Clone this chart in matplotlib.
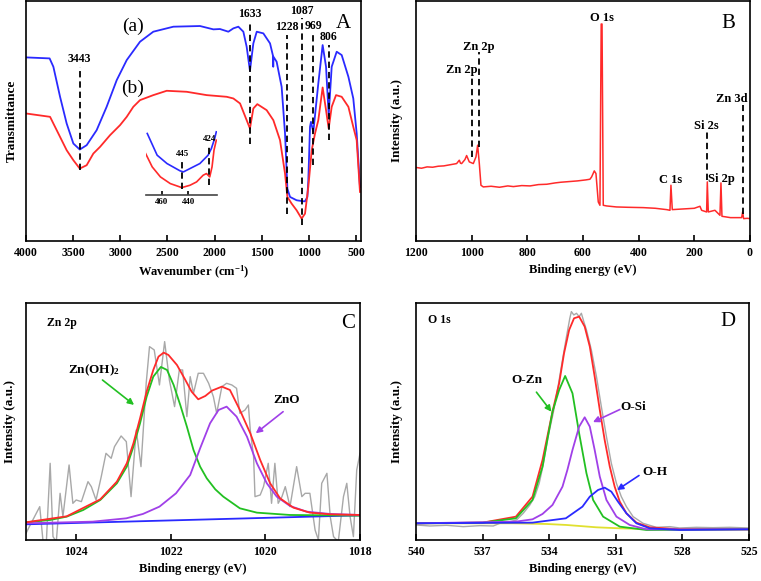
import matplotlib
matplotlib.use("Agg")
import matplotlib.pyplot as plt

plt.rcParams["font.family"] = ["Liberation Serif", "DejaVu Serif"]
plt.rcParams["font.weight"] = "bold"
plt.rcParams["mathtext.fontset"] = "custom"
plt.rcParams["mathtext.rm"] = "Liberation Serif"
plt.rcParams["mathtext.bf"] = "Liberation Serif:bold"
plt.rcParams["mathtext.default"] = "bf"

# ---- A: FTIR ----
ftir_x_a = [4000, 3750, 3710, 3639, 3569, 3498, 3430, 3357, 3251, 3145, 3038, 2932, 2791, 2650,
            2437, 2155, 2013, 1943, 1854, 1801, 1748, 1695, 1660, 1625, 1589, 1553, 1483, 1412,
            1380, 1378, 1376, 1342, 1289, 1253, 1228, 1200, 1130, 1059, 1041, 1016, 1006, 988,
            978, 953, 900, 854, 818, 790, 758, 705, 652, 581, 529, 493, 458]
ftir_y_a = [558, 555, 530, 440, 360, 300, 282, 295, 340, 410, 490, 550, 605, 635,
            650, 652, 642, 643, 635, 645, 650, 635, 590, 518, 600, 635, 630, 600,
            562, 530, 560, 545, 470, 330, 165, 140, 130, 127, 127, 140, 190, 350,
            365, 335, 480, 595, 530, 385, 530, 575, 565, 500, 435, 330, 170]
ftir_x_b = [4000, 3745, 3710, 3657, 3569, 3498, 3430, 3357, 3286, 3215, 3109, 3003, 2932, 2862,
            2791, 2650, 2508, 2296, 2084, 1872, 1801, 1730, 1660, 1625, 1589, 1547, 1448, 1377,
            1306, 1253, 1228, 1183, 1130, 1077, 1041, 1006, 970, 935, 900, 854, 818, 790, 758,
            712, 652, 581, 529, 493, 458]
ftir_y_b = [390, 380, 360, 330, 280, 250, 225, 235, 270, 290, 325, 355, 380, 410,
            430, 445, 458, 455, 445, 440, 435, 420, 370, 345, 405, 418, 400, 370,
            310, 210, 140, 120, 100, 75, 90, 170, 280, 330, 370, 468, 400, 345, 410,
            445, 440, 410, 350, 310, 155]
ftir_marks = [3430, 1625, 1229, 1078, 953, 790]
ftir_mark_text = ["3443", "1633", "1228", "1087", "969", "806"]
ftir_mark_top = [530, 665, 625, 675, 630, 595]
ftir_mark_bot = [220, 300, 90, 55, 235, 310]

inset_x_a = [471.25, 463.75, 456.25, 446.25, 443.75, 438.75, 431.25, 425, 422.5, 420, 418.75]
inset_y_a = [330, 265, 240, 218, 215, 225, 240, 265, 285, 315, 335]
inset_x_b = [472.5, 467.5, 461.25, 453.75, 445, 438.75, 433.75, 428.75, 426.25, 423.75, 422,
             420.5, 418.75]
inset_y_b = [270, 230, 200, 180, 168, 175, 185, 205, 210, 200, 230, 280, 310]
inset_marks = [444.5, 424.25]
inset_mark_text = ["445", "424"]
inset_mark_top = [255, 298]
inset_mark_bot = [165, 175]

# ---- B: XPS survey ----
survey_x = [1197.6, 1180, 1160, 1140, 1120, 1100, 1080, 1060, 1053.9, 1044.3, 1040, 1035.9, 1024.0,
            1018.0, 1008.4, 994.0, 984.4, 978.4, 972.4, 966.5, 958.1, 930, 900, 870, 850, 820,
            790, 760, 730, 700, 680, 650, 620, 590, 575, 568.9, 559.3, 553.3, 545, 539, 534.5,
            531.5, 527.1, 515, 503, 480, 440, 383.3, 340, 299.4, 287.4, 283.9, 279.1, 240, 200,
            179.7, 173.7, 155.7, 153.3, 149.7, 125.8, 107.8, 104.2, 100.6, 70, 29.9, 26.3, 22.8,
            10, 0]
survey_y = [228, 226, 230, 229, 232, 233, 236, 239, 240, 250, 241, 240, 252,
            264, 245, 240, 260, 295, 240, 175, 170, 172, 169, 173, 171, 174,
            173, 177, 178, 182, 184, 186, 188, 191, 193, 200, 218, 210, 125, 115, 658,
            658, 115, 113, 112, 110, 109, 108, 106, 102, 100, 175, 102, 104, 106,
            112, 100, 95, 185, 95, 100, 85, 182, 82, 78, 78, 95, 75,
            76, 75]
survey_marks = [997.6, 975, 153.3, 24]
survey_mark_top = [505, 575, 338, 415]
survey_mark_bot = [260, 290, 190, 90]
survey_text = ["O 1s", "Zn 2p", "Zn 2p", "Si 2s", "C 1s", "Si 2p", "Zn 3d"]
survey_text_x = [533, 976, 1036, 155.7, 284, 102, 66]
survey_text_y = [675, 590, 520, 352, 190, 195, 432]

# ---- C: Zn 2p ----
zn_raw_x = [1025.06, 1024.99, 1024.88, 1024.77, 1024.70, 1024.63, 1024.55, 1024.49, 1024.42,
            1024.34, 1024.28, 1024.15, 1024.07, 1024.00, 1023.89, 1023.75, 1023.68, 1023.58,
            1023.47, 1023.37, 1023.26, 1023.19, 1023.05, 1022.94, 1022.84, 1022.73, 1022.63,
            1022.52, 1022.45, 1022.35, 1022.24, 1022.13, 1022.03, 1021.92, 1021.82, 1021.75,
            1021.66, 1021.59, 1021.52, 1021.42, 1021.31, 1021.20, 1021.10, 1021.03, 1020.92,
            1020.82, 1020.71, 1020.61, 1020.54, 1020.43, 1020.36, 1020.32, 1020.25, 1020.22,
            1020.11, 1020.04, 1019.94, 1019.87, 1019.80, 1019.73, 1019.65, 1019.58, 1019.48,
            1019.34, 1019.23, 1019.16, 1019.06, 1018.95, 1018.88, 1018.81, 1018.70, 1018.63,
            1018.56, 1018.46, 1018.35, 1018.28, 1018.21, 1018.14, 1018.07, 1018.00]
zn_raw_y = [30, 50, 80, 110, 5, 5, 240, 20, 5, 150, 80, 235, 120, 130, 125, 185, 170, 130,
            200, 270, 255, 290, 322, 305, 140, 340, 230, 480, 590, 580, 475, 605, 490, 410,
            520, 520, 380, 500, 450, 510, 510, 480, 440, 390, 470, 480, 475, 465, 390, 400,
            415, 340, 260, 140, 145, 170, 240, 120, 240, 120, 140, 170, 110, 230, 140, 150,
            150, 40, 10, 180, 210, 80, 20, 5, 140, 180, 80, 20, 220, 270]
zn_ohx = [1025.06, 1024.55, 1024.20, 1023.85, 1023.49, 1023.14, 1022.93, 1022.79, 1022.65,
          1022.51, 1022.37, 1022.21, 1022.08, 1021.94, 1021.80, 1021.66, 1021.52, 1021.38,
          1021.24, 1021.06, 1020.89, 1020.54, 1020.18, 1019.48, 1018.00]
zn_ohy = [63, 70, 80, 100, 130, 180, 230, 290, 360, 440, 500, 529, 520, 475, 415, 350, 280,
          230, 195, 162, 140, 105, 92, 85, 83]
zno_x = [1025.06, 1023.65, 1022.94, 1022.59, 1022.24, 1021.89, 1021.59, 1021.38, 1021.17,
         1020.99, 1020.82, 1020.61, 1020.39, 1020.18, 1019.97, 1019.76, 1019.48, 1019.13,
         1018.63, 1018.00]
zno_y = [60, 65, 75, 88, 110, 150, 205, 285, 360, 400, 410, 380, 320, 240, 180, 140, 112, 95,
         88, 85]
zn_fit_x = [1025.06, 1024.20, 1023.49, 1023.14, 1022.93, 1022.79, 1022.65, 1022.51, 1022.37,
            1022.26, 1022.15, 1022.05, 1021.87, 1021.70, 1021.56, 1021.42, 1021.27, 1021.13,
            1020.92, 1020.75, 1020.54, 1020.32, 1020.11, 1019.90, 1019.69, 1019.41, 1019.06,
            1018.63, 1018.00]
zn_fit_y = [63, 81, 132, 185, 240, 300, 375, 455, 520, 560, 572, 565, 535, 492, 455, 432, 442,
            458, 470, 460, 400, 330, 250, 180, 135, 107, 92, 87, 85]
zn_base_x = [1025.06, 1018.00]
zn_base_y = [57, 84]

# ---- D: O 1s ----
o_raw_x = [540.00, 539.37, 538.62, 537.87, 537.12, 536.52, 536.22, 535.77, 535.47, 535.17,
           534.87, 534.65, 534.45, 534.27, 534.05, 533.82, 533.60, 533.40, 533.22, 533.07,
           533.00, 532.89, 532.77, 532.65, 532.55, 532.44, 532.32, 532.10, 531.87, 531.65,
           531.42, 531.20, 530.97, 530.75, 530.52, 530.22, 529.77, 529.17, 528.57, 528.12,
           527.37, 526.62, 525.87, 525.00]
o_raw_y = [55, 52, 54, 50, 53, 52, 60, 65, 70, 90, 115, 140, 180, 235, 320, 390, 470, 550,
           620, 675, 695, 685, 690, 680, 690, 665, 640, 580, 500, 410, 320, 240, 180, 140, 110,
           80, 60, 48, 50, 46, 48, 47, 48, 46]
o_fit_x = [540.00, 537.00, 535.50, 534.75, 534.30, 533.85, 533.55, 533.33, 533.10, 532.88,
           532.65, 532.40, 532.17, 531.95, 531.72, 531.50, 531.27, 531.05, 530.82, 530.52,
           530.07, 529.47, 528.12, 525.00]
o_fit_y = [60, 62, 80, 140, 250, 395, 480, 570, 640, 675, 680, 650, 590, 500, 400, 310, 230,
           170, 125, 90, 62, 48, 42, 42]
o_zn_x = [540.00, 537.00, 535.50, 534.75, 534.30, 533.85, 533.55, 533.28, 532.95, 532.65,
          532.32, 532.02, 531.57, 530.82, 529.62, 525.00]
o_zn_y = [60, 62, 75, 130, 230, 395, 460, 502, 450, 330, 210, 130, 80, 50, 40, 42]
o_si_x = [540.00, 535.50, 534.75, 534.30, 533.85, 533.40, 533.18, 532.95, 532.65, 532.40,
          532.17, 531.95, 531.72, 531.42, 530.97, 530.37, 529.62, 525.00]
o_si_y = [60, 65, 72, 88, 115, 170, 220, 280, 350, 378, 350, 280, 200, 130, 80, 55, 42, 42]
o_h_x = [540.00, 534.75, 533.25, 532.50, 532.17, 531.80, 531.50, 531.20, 530.90, 530.52,
         530.07, 529.47, 528.12, 525.00]
o_h_y = [60, 62, 75, 110, 140, 160, 167, 155, 125, 90, 60, 45, 40, 42]
o_base_x = [540.00, 535.62, 534.12, 533.22, 531.87, 530.82, 529.62, 525.00]
o_base_y = [60, 60, 58, 55, 48, 45, 43, 42]

RED = "#ff2a2a"
BLUE = "#2a2aff"
GREEN = "#22c022"
PURPLE = "#a040e8"
GRAY = "#a8a8a8"
YELLOW = "#e0e030"


def frame(ax, xlim, ylim, ticks, xlabel, ylabel, ylabelpad):
    ax.set_xlim(*xlim)
    ax.set_ylim(*ylim)
    ax.set_xticks(ticks)
    ax.set_yticks([])
    ax.tick_params(axis="x", direction="in", length=4, width=1.2, labelsize=8.5, pad=4)
    for s in ax.spines.values():
        s.set_linewidth(1.2)
    ax.set_xlabel(xlabel, fontsize=9, fontweight="bold", labelpad=4)
    ax.set_ylabel(ylabel, fontsize=9.5, fontweight="bold", labelpad=ylabelpad)


def dashed(ax, x, y0, y1):
    ax.plot([x, x], [y0, y1], color="black", lw=1.3, dashes=(3.5, 2.2))


def arrow(ax, tail, tip, color):
    ax.annotate("", xy=tip, xytext=tail,
                arrowprops=dict(arrowstyle="-|>", color=color, lw=1.2, mutation_scale=9))


fig = plt.figure(figsize=(7.61, 5.81), dpi=100)
ax_a = fig.add_axes([0.0342, 0.5852, 0.4402, 0.4131])
ax_b = fig.add_axes([0.5466, 0.5852, 0.4389, 0.4131])
ax_c = fig.add_axes([0.0342, 0.0706, 0.4389, 0.4074])
ax_d = fig.add_axes([0.5466, 0.0706, 0.4376, 0.4074])

# A
ax_a.plot(ftir_x_a, ftir_y_a, color=BLUE, lw=1.3)
ax_a.plot(ftir_x_b, ftir_y_b, color=RED, lw=1.3)
for x, t, y0, y1 in zip(ftir_marks, ftir_mark_text, ftir_mark_bot, ftir_mark_top):
    dashed(ax_a, x, y0, y1)
    ax_a.text(x, y1 + 5, t, ha="center", va="bottom", fontsize=8.5, fontweight="bold")
ax_a.text(2869, 650, "(a)", ha="center", va="center", fontsize=14, fontweight="normal")
ax_a.text(2869, 465, "(b)", ha="center", va="center", fontsize=14, fontweight="normal")
ax_a.text(635, 660, "A", ha="center", va="center", fontsize=15, fontweight="normal")
frame(ax_a, (4000, 447), (8, 727), range(4000, 0, -500),
      "Wavenumber (cm$^{-1}$)", "Transmittance", 6)

ins = ax_a.inset_axes([0.357, 0.1905, 0.212, 0.27])
ins.patch.set_alpha(0)
ins.plot(inset_x_a, inset_y_a, color=BLUE, lw=1.2)
ins.plot(inset_x_b, inset_y_b, color=RED, lw=1.2)
for x, t, y0, y1 in zip(inset_marks, inset_mark_text, inset_mark_bot, inset_mark_top):
    dashed(ins, x, y0, y1)
    ins.text(x, y1 + 3, t, ha="center", va="bottom", fontsize=6.5, fontweight="bold")
ins.set_xlim(472.5, 418.5)
ins.set_ylim(145, 339)
ins.set_xticks([460, 440])
ins.set_yticks([])
ins.tick_params(axis="x", direction="in", length=3, width=1.2, labelsize=6.5, pad=2)
for side in ["top", "left", "right"]:
    ins.spines[side].set_visible(False)
ins.spines["bottom"].set_linewidth(1.2)
ins.spines["bottom"].set_color("#444444")

# B
ax_b.plot(survey_x, survey_y, color=RED, lw=1.1)
for x, y0, y1 in zip(survey_marks, survey_mark_bot, survey_mark_top):
    dashed(ax_b, x, y0, y1)
for t, x, y in zip(survey_text, survey_text_x, survey_text_y):
    ax_b.text(x, y, t, ha="center", va="center", fontsize=9, fontweight="bold")
ax_b.text(78, 660, "B", ha="center", va="center", fontsize=15, fontweight="normal")
frame(ax_b, (1200, 0), (8, 727), range(1200, -1, -200),
      "Binding energy (eV)", "Intensity (a.u.)", 9)

# C
ax_c.plot(zn_raw_x, zn_raw_y, color=GRAY, lw=1.0)
ax_c.plot(zn_base_x, zn_base_y, color=BLUE, lw=1.3)
ax_c.plot(zn_ohx, zn_ohy, color=GREEN, lw=1.3)
ax_c.plot(zno_x, zno_y, color=PURPLE, lw=1.3)
ax_c.plot(zn_fit_x, zn_fit_y, color=RED, lw=1.3)
ax_c.text(1024.62, 660, "Zn 2p", ha="left", va="center", fontsize=8.5, fontweight="bold")
ax_c.text(1018.25, 660, "C", ha="center", va="center", fontsize=15, fontweight="normal")
ax_c.text(1023.63, 520, "Zn(OH)$_2$", ha="center", va="center", fontsize=9.5)
arrow(ax_c, (1023.49, 495), (1022.73, 410), GREEN)
ax_c.text(1019.55, 430, "ZnO", ha="center", va="center", fontsize=9.5)
arrow(ax_c, (1019.58, 400), (1020.25, 325), PURPLE)
frame(ax_c, (1025.06, 1018), (10, 720), [1024, 1022, 1020, 1018],
      "Binding energy (eV)", "Intensity (a.u.)", 7)

# D
ax_d.plot(o_raw_x, o_raw_y, color=GRAY, lw=1.0)
ax_d.plot(o_base_x, o_base_y, color=YELLOW, lw=1.3)
ax_d.plot(o_fit_x, o_fit_y, color=RED, lw=1.3)
ax_d.plot(o_zn_x, o_zn_y, color=GREEN, lw=1.3)
ax_d.plot(o_si_x, o_si_y, color=PURPLE, lw=1.3)
ax_d.plot(o_h_x, o_h_y, color=BLUE, lw=1.3)
ax_d.text(539.45, 670, "O 1s", ha="left", va="center", fontsize=8.5, fontweight="bold")
ax_d.text(525.95, 665, "D", ha="center", va="center", fontsize=15, fontweight="normal")
ax_d.text(535.02, 490, "O-Zn", ha="center", va="center", fontsize=9.5)
arrow(ax_d, (534.65, 460), (533.82, 388), GREEN)
ax_d.text(530.22, 410, "O-Si", ha="center", va="center", fontsize=9.5)
arrow(ax_d, (530.70, 405), (532.14, 360), PURPLE)
ax_d.text(529.25, 215, "O-H", ha="center", va="center", fontsize=9.5)
arrow(ax_d, (529.85, 208), (531.05, 155), BLUE)
frame(ax_d, (540, 525), (10, 720), range(540, 524, -3),
      "Binding energy (eV)", "Intensity (a.u.)", 9)

fig.savefig("out.png", dpi=100)
